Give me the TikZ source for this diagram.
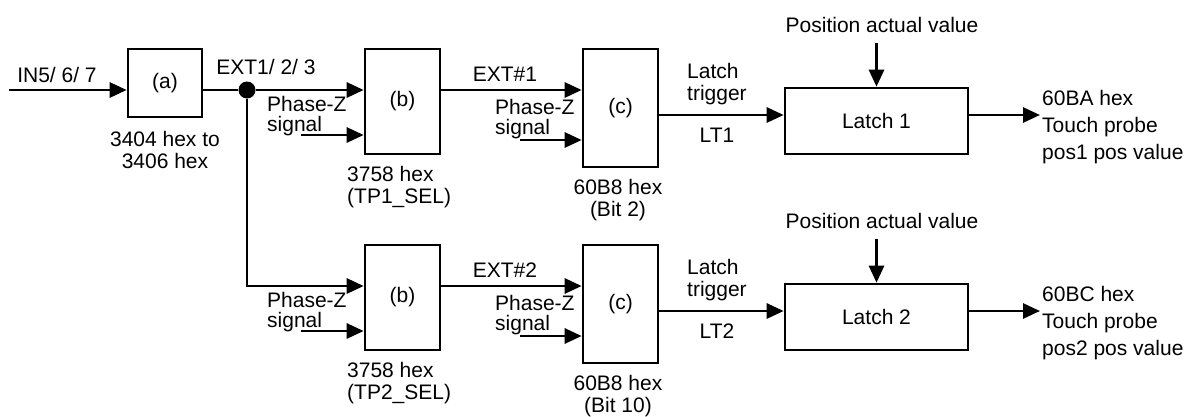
\documentclass[tikz,border=0pt]{standalone}
\usepackage{fontspec}
\setmainfont{Liberation Sans}
\usetikzlibrary{arrows.meta, calc}

\tikzset{
  blk/.style={draw, line width=2.6pt, inner sep=0pt, font=\fontsize{21}{22}\selectfont},
  lbl/.style={inner sep=0pt, font=\fontsize{21}{22}\selectfont},
  pzlbl/.style={lbl, align=left, anchor=west, font=\fontsize{21}{20}\selectfont},
  wire/.style={line width=2.8pt},
  sig/.style={wire, -{Triangle[length=17pt,width=15pt]}},
}

\begin{document}
\begin{tikzpicture}[x=1pt,y=-1pt]
  \useasboundingbox (0,0) rectangle (1200,416);
  % input stage
  \node[blk, minimum width=74pt, minimum height=68pt] (a) at (165,83) {(a)};
  \node[lbl] (inlbl) at (57,75) {IN5/ 6/ 7};
  \node[lbl, align=center] (alab) at (165,150) {3404 hex to\\3406 hex};
  \node[lbl] (extlbl) at (266,67) {EXT1/ 2/ 3};
  \coordinate (in) at (9,90);
  \draw[sig] (in) -- (in -| a.west);
  \node[circle, fill, inner sep=0pt, minimum size=17pt] (j) at (247,90) {};
  \draw[wire] (a.east |- j) -- (j);
  % two probe channels
  \foreach \i/\dy/\bit/\obj in {1/0/2/60BA, 2/196/10/60BC} {
    \node[blk, minimum width=75pt, minimum height=105pt] (b\i) at (402.5,101.5+\dy) {(b)};
    \node[blk, minimum width=75pt, minimum height=118pt] (c\i) at (620.5,108+\dy) {(c)};
    \node[blk, minimum width=183pt, minimum height=66pt] (L\i) at (876.5,121+\dy) {Latch \i};
    % phase-Z inputs
    \node[pzlbl] (pzb\i) at (267,116+\dy) {Phase-Z\\signal};
    \coordinate (pzbs\i) at (301,135+\dy);
    \draw[sig] (pzbs\i) -- (pzbs\i -| b\i.west);
    \node[pzlbl] (pzc\i) at (495,119+\dy) {Phase-Z\\signal};
    \coordinate (pzcs\i) at (520,140+\dy);
    \draw[sig] (pzcs\i) -- (pzcs\i -| c\i.west);
    % b -> c
    \node[lbl] (ext\i) at (505,74+\dy) {EXT\#\i};
    \draw[sig] (b\i.east |- 0,90+\dy) -- (c\i.west |- 0,90+\dy);
    \node[lbl, align=left, anchor=west] (bsel\i) at (347,187+\dy) {3758 hex\\(TP\i\_SEL)};
    \node[lbl, align=center] (csel\i) at (618,200+\dy) {60B8 hex\\(Bit \bit)};
    % c -> latch
    \node[lbl, align=left, anchor=west] (trig\i) at (687,84+\dy) {Latch\\trigger};
    \node[lbl] (lt\i) at (717,135+\dy) {LT\i};
    \draw[sig] (c\i.east |- 0,115+\dy) -- (L\i.west |- 0,115+\dy);
    \node[lbl] (pav\i) at (882,25+\dy) {Position actual value};
    \draw[sig] (L\i.north |- 0,43+\dy) -- (L\i.north);
    % output
    \coordinate (out\i) at (1040,115+\dy);
    \draw[sig] (L\i.east |- out\i) -- (out\i);
    \node[lbl, align=left, anchor=west] (res\i) at (1042,127+\dy) {\obj{} hex\\[5pt]Touch probe\\[5pt]pos\i{} pos value};
  }
  % junction to both channels
  \draw[sig] (j) -- (j -| b1.west);
  \draw[sig] (j) |- (b2.west |- 0,286);
\end{tikzpicture}
\end{document}
